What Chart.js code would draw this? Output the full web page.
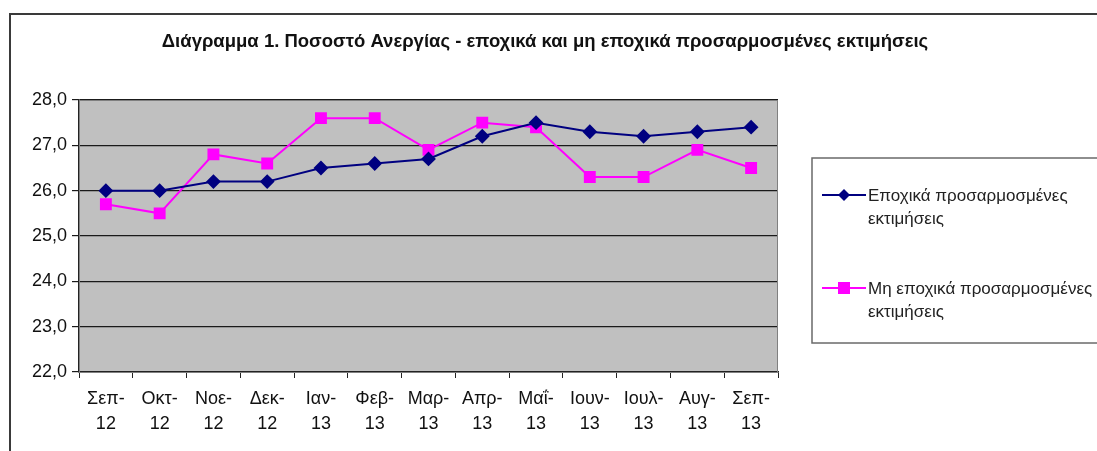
<!DOCTYPE html>
<html>
<head>
<meta charset="utf-8">
<script src="https://cdn.jsdelivr.net/npm/chart.js@4/dist/chart.umd.min.js"></script>
<style>
  html, body { margin: 0; padding: 0; background: #fff; }
  #wrap { width: 1097px; height: 451px; position: relative; }
</style>
</head>
<body>
<div id="wrap"><canvas id="chart"></canvas></div>
<script>
var months = [['Σεπ-', '12'], ['Οκτ-', '12'], ['Νοε-', '12'], ['Δεκ-', '12'], ['Ιαν-', '13'], ['Φεβ-', '13'],
  ['Μαρ-', '13'], ['Απρ-', '13'], ['Μαΐ-', '13'], ['Ιουν-', '13'], ['Ιουλ-', '13'], ['Αυγ-', '13'], ['Σεπ-', '13']]

var seasonal = [26.0, 26.0, 26.2, 26.2, 26.5, 26.6, 26.7, 27.2, 27.5, 27.3, 27.2, 27.3, 27.4]
var nonSeasonal = [25.7, 25.5, 26.8, 26.6, 27.6, 27.6, 26.9, 27.5, 27.4, 26.3, 26.3, 26.9, 26.5]

var seasonalLabel = ['Εποχικά προσαρμοσμένες', 'εκτιμήσεις']
var nonSeasonalLabel = ['Μη εποχικά προσαρμοσμένες', 'εκτιμήσεις']
var chartTitle = 'Διάγραμμα 1. Ποσοστό Ανεργίας - εποχικά και μη εποχικά προσαρμοσμένες εκτιμήσεις'

var FONT = '"Liberation Sans", Arial, sans-serif'

// frame, grey plot background, title and the boxed legend
var decor = {
  id: 'decor',
  beforeDraw: function (chart) {
    var ctx = chart.ctx
    var a = chart.chartArea
    ctx.save()
    ctx.fillStyle = '#c0c0c0'
    ctx.fillRect(a.left, a.top, a.right - a.left, a.bottom - a.top)
    ctx.restore()
  },
  afterDraw: function (chart) {
    var ctx = chart.ctx
    var a = chart.chartArea
    ctx.save()
    // outer frame
    ctx.strokeStyle = '#3a3a3a'
    ctx.lineWidth = 2
    ctx.strokeRect(10, 14, 1200, 600)
    // plot border
    ctx.strokeStyle = '#808080'
    ctx.lineWidth = 1
    ctx.strokeRect(a.left + 0.5, a.top + 0.5, a.right - a.left - 1, a.bottom - a.top)
    // title
    ctx.fillStyle = '#111'
    ctx.font = 'bold 18.5px ' + FONT
    ctx.textAlign = 'center'
    ctx.textBaseline = 'middle'
    ctx.fillText(chartTitle, 545, 42)
    // legend box
    ctx.strokeStyle = '#6a6a6a'
    ctx.lineWidth = 1.5
    ctx.strokeRect(812, 158, 400, 185)
    ctx.font = '17px ' + FONT
    ctx.textAlign = 'left'
    chart.data.datasets.forEach(function (ds, i) {
      var y = i === 0 ? 195 : 288
      ctx.strokeStyle = ds.borderColor
      ctx.lineWidth = 2
      ctx.beginPath()
      ctx.moveTo(822, y)
      ctx.lineTo(866, y)
      ctx.stroke()
      ctx.fillStyle = ds.pointBackgroundColor
      if (ds.pointStyle === 'rect') {
        ctx.fillRect(838, y - 6, 12, 12)
      } else {
        ctx.beginPath()
        ctx.moveTo(844, y - 6)
        ctx.lineTo(850, y)
        ctx.lineTo(844, y + 6)
        ctx.lineTo(838, y)
        ctx.closePath()
        ctx.fill()
      }
      ctx.fillStyle = '#222'
      ds.legendLines.forEach(function (t, k) {
        ctx.fillText(t, 868, y + 1 + k * 23)
      })
    })
    ctx.restore()
  }
}

new Chart(document.getElementById('chart'), {
  type: 'line',
  data: {
    labels: months,
    datasets: [
      {
        label: seasonalLabel.join(' '),
        legendLines: seasonalLabel,
        data: seasonal,
        borderColor: '#000080',
        backgroundColor: '#000080',
        pointBackgroundColor: '#000080',
        pointBorderColor: '#000080',
        pointStyle: 'rectRot',
        pointRadius: 6,
        borderWidth: 2,
        tension: 0
      },
      {
        label: nonSeasonalLabel.join(' '),
        legendLines: nonSeasonalLabel,
        data: nonSeasonal,
        borderColor: '#ff00ff',
        backgroundColor: '#ff00ff',
        pointBackgroundColor: '#ff00ff',
        pointBorderColor: '#ff00ff',
        pointStyle: 'rect',
        pointRadius: 7,
        borderWidth: 2,
        tension: 0
      }
    ]
  },
  options: {
    responsive: true,
    maintainAspectRatio: false,
    animation: false,
    layout: { padding: { left: 0, right: 319, top: 100, bottom: 0 } },
    plugins: {
      legend: { display: false },
      title: { display: false },
      tooltip: { enabled: false }
    },
    scales: {
      x: {
        offset: true,
        afterFit: function (scale) { scale.height = 79 },
        grid: {
          offset: true,
          drawOnChartArea: false,
          drawTicks: true,
          tickLength: 6,
          color: '#222'
        },
        border: { color: '#222', width: 1.5 },
        ticks: {
          color: '#111',
          font: { family: FONT, size: 18, lineHeight: 1.4 },
          maxRotation: 0,
          autoSkip: false,
          padding: 8
        }
      },
      y: {
        min: 22,
        max: 28,
        afterFit: function (scale) { scale.width = 79 },
        grid: {
          color: '#1a1a1a',
          lineWidth: 1.2,
          drawTicks: true,
          tickLength: 7
        },
        border: { color: '#222', width: 1.5 },
        ticks: {
          stepSize: 1,
          color: '#111',
          font: { family: FONT, size: 18 },
          padding: 5,
          callback: function (v) { return v.toFixed(1).replace('.', ',') }
        }
      }
    }
  },
  plugins: [decor]
})
</script>
</body>
</html>
